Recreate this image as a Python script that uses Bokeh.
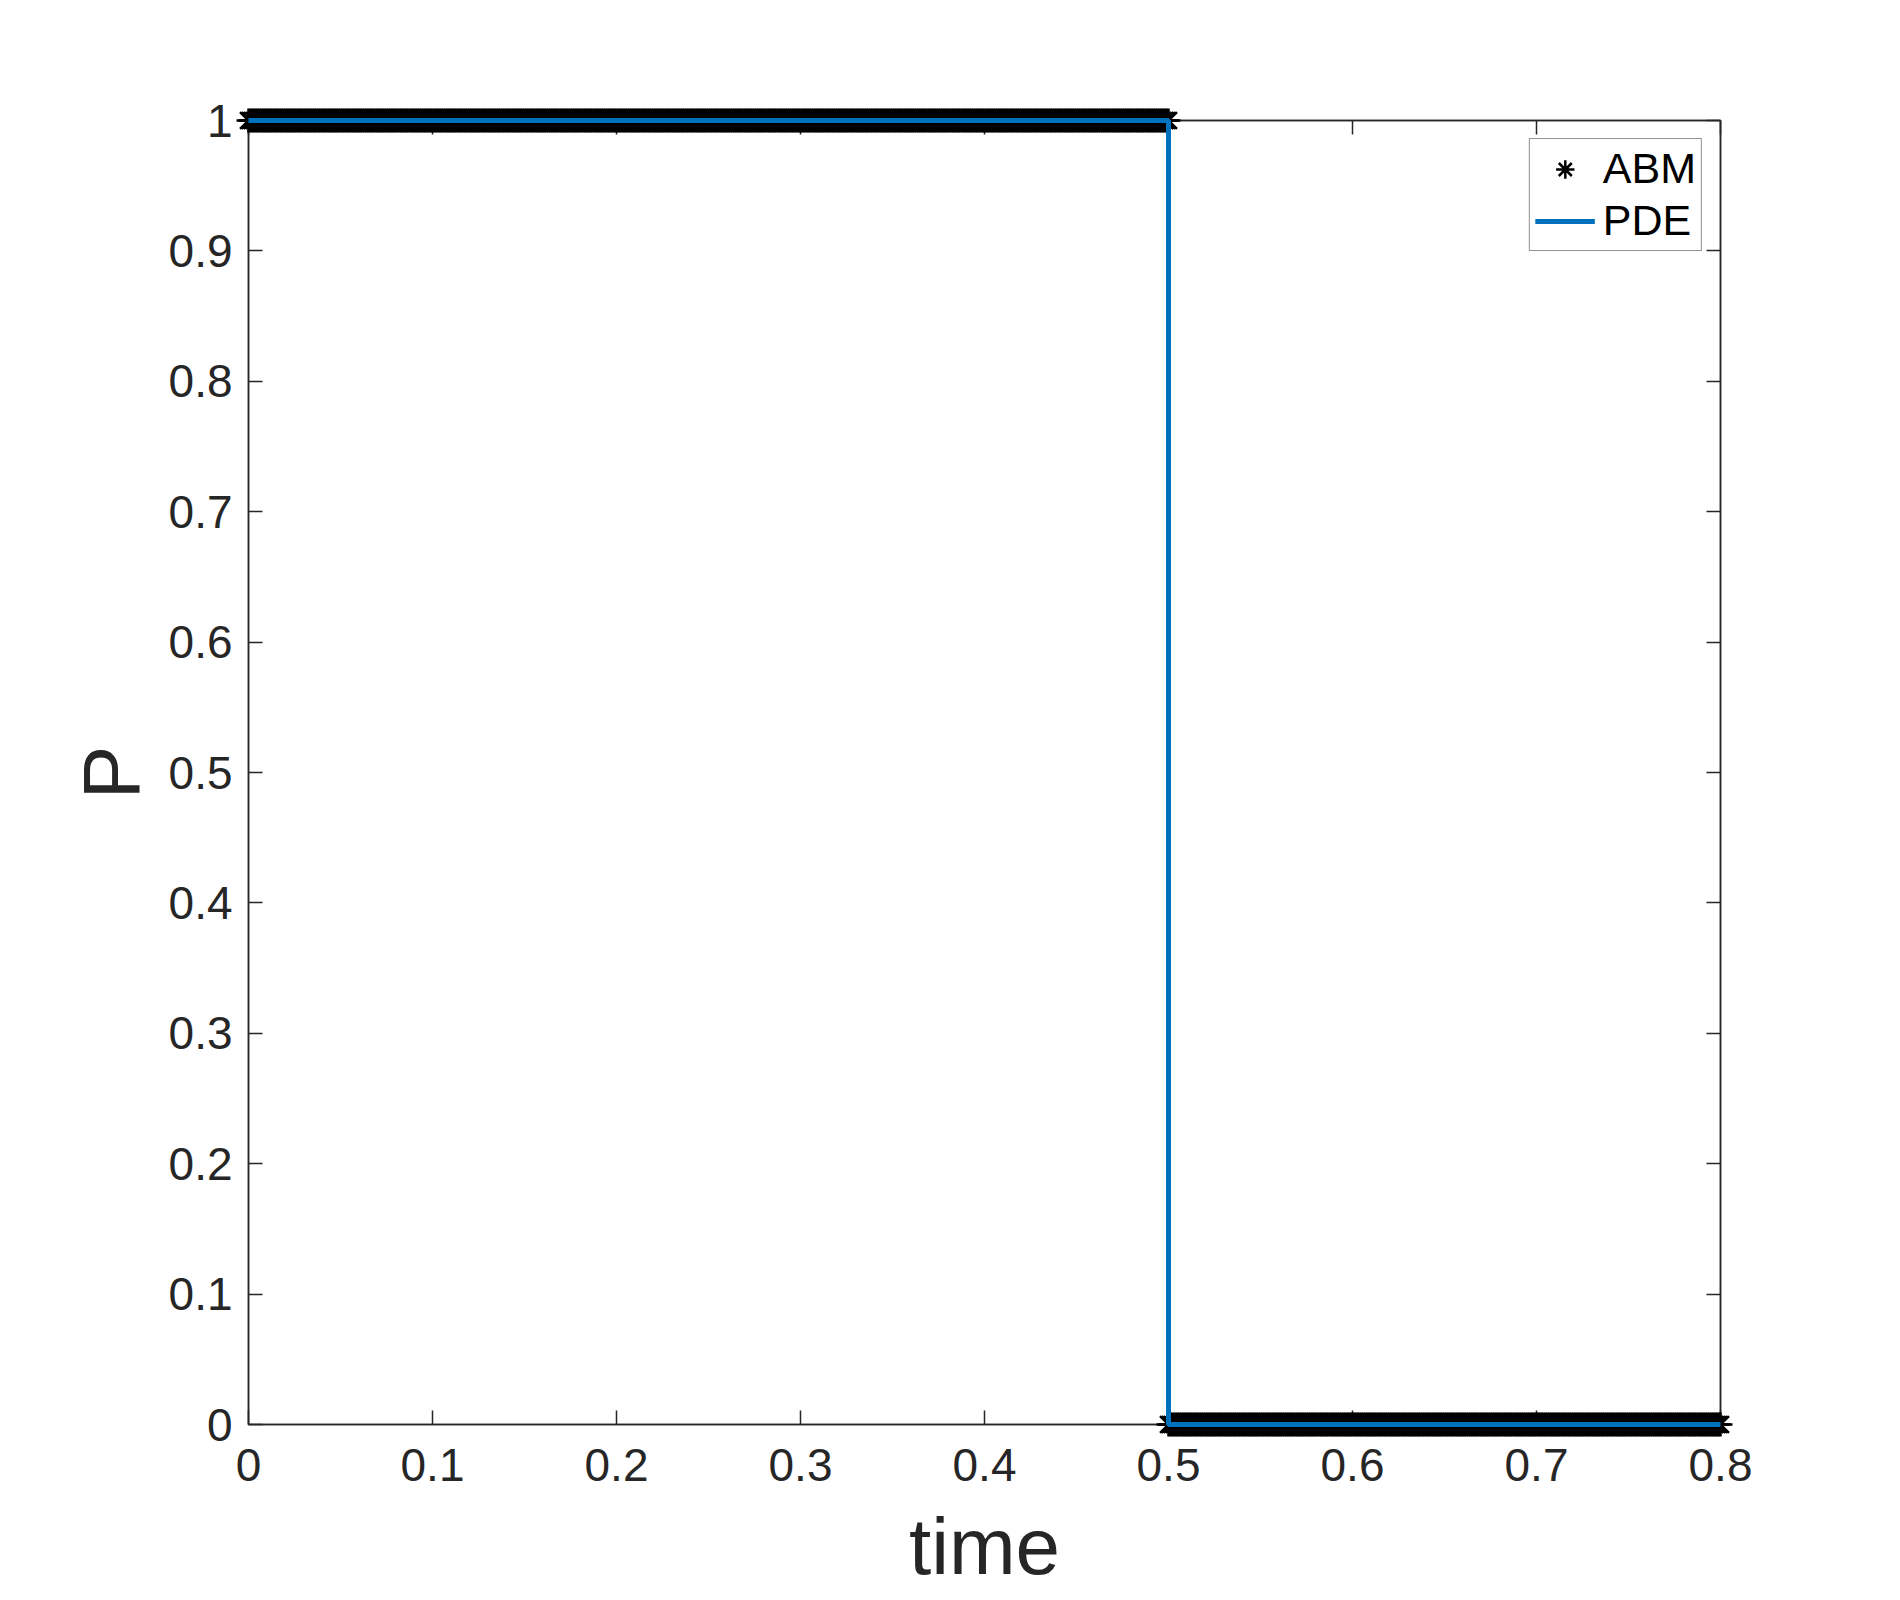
from bokeh.plotting import figure
from bokeh.models import (LinearAxis, FixedTicker, Legend, LegendItem, Range1d,
                          CustomJSTickFormatter)
from bokeh.embed import file_html
from bokeh.resources import INLINE

# ---- data ----
x_ticks = [0, 0.1, 0.2, 0.3, 0.4, 0.5, 0.6, 0.7, 0.8]
x_tick_labels = ["0", "0.1", "0.2", "0.3", "0.4", "0.5", "0.6", "0.7", "0.8"]
y_ticks = [0, 0.1, 0.2, 0.3, 0.4, 0.5, 0.6, 0.7, 0.8, 0.9, 1]
y_tick_labels = ["0", "0.1", "0.2", "0.3", "0.4", "0.5", "0.6", "0.7", "0.8", "0.9", "1"]

# ABM: constant segments (start time, end time, P value), sampled densely
abm_seg_start = [0.0, 0.5]
abm_seg_end = [0.5, 0.8]
abm_seg_value = [1, 0]
abm_dt = 0.001

# PDE: step curve
pde_time = [0.0, 0.5, 0.5, 0.8]
pde_P = [1, 1, 0, 0]

abm_time, abm_P = [], []
for s, e, v in zip(abm_seg_start, abm_seg_end, abm_seg_value):
    n = int(round((e - s) / abm_dt))
    for k in range(n + 1):
        abm_time.append(s + k * abm_dt)
        abm_P.append(v)

FONT = "Liberation Sans"
DARK = "#262626"

p = figure(width=1880, height=1598, output_backend="svg", toolbar_location=None,
           x_range=Range1d(0, 0.8), y_range=Range1d(0, 1),
           min_border_left=248, min_border_right=160,
           min_border_top=120, min_border_bottom=174,
           x_axis_label="time", y_axis_label="P")
p.grid.visible = False
p.outline_line_color = DARK
p.outline_line_width = 1.5
p.background_fill_color = "white"
p.border_fill_color = "white"


def fmt(vals, labels):
    return CustomJSTickFormatter(args=dict(tvals=vals, tlabels=labels), code="""
        const i = tvals.findIndex(t => Math.abs(t - tick) < 1e-9);
        return i >= 0 ? tlabels[i] : '';
    """)


def style(ax, vals, labels, show_labels=True):
    ax.ticker = FixedTicker(ticks=vals)
    ax.formatter = fmt(vals, labels)
    ax.axis_line_color = DARK
    ax.axis_line_width = 1.5
    ax.major_tick_line_color = DARK
    ax.major_tick_line_width = 1.5
    ax.major_tick_in = 14
    ax.major_tick_out = 0
    ax.minor_tick_line_color = None
    ax.major_label_text_font = FONT
    ax.major_label_text_font_size = "46px"
    ax.major_label_text_color = DARK if show_labels else None
    ax.axis_label_text_font = FONT
    ax.axis_label_text_font_size = "80px"
    ax.axis_label_text_font_style = "normal"
    ax.axis_label_text_color = DARK


style(p.xaxis[0], x_ticks, x_tick_labels)
style(p.yaxis[0], y_ticks, y_tick_labels)
p.xaxis[0].major_label_standoff = 24
p.xaxis[0].axis_label_standoff = 18
p.yaxis[0].major_label_standoff = 16
p.yaxis[0].axis_label_standoff = 10

top = LinearAxis()
style(top, x_ticks, x_tick_labels, show_labels=False)
p.add_layout(top, "above")
right = LinearAxis()
style(right, y_ticks, y_tick_labels, show_labels=False)
p.add_layout(right, "right")

r_abm = p.scatter(abm_time, abm_P, marker="asterisk", size=24, line_color="black",
                  line_width=2.5, level="overlay")
r_pde = p.line(pde_time, pde_P, line_color="#0072BD", line_width=5, level="overlay")

legend = Legend(items=[LegendItem(label="ABM", renderers=[r_abm]),
                       LegendItem(label="PDE", renderers=[r_pde])],
                location="top_right", margin=18, padding=5, spacing=3,
                glyph_width=60, glyph_height=46, label_height=46, label_standoff=8,
                label_text_font=FONT, label_text_font_size="43px",
                label_text_color="black",
                border_line_color=DARK, border_line_width=1.5,
                background_fill_color="white", background_fill_alpha=1)
p.add_layout(legend)

open("out.html", "w").write(file_html(p, INLINE))
